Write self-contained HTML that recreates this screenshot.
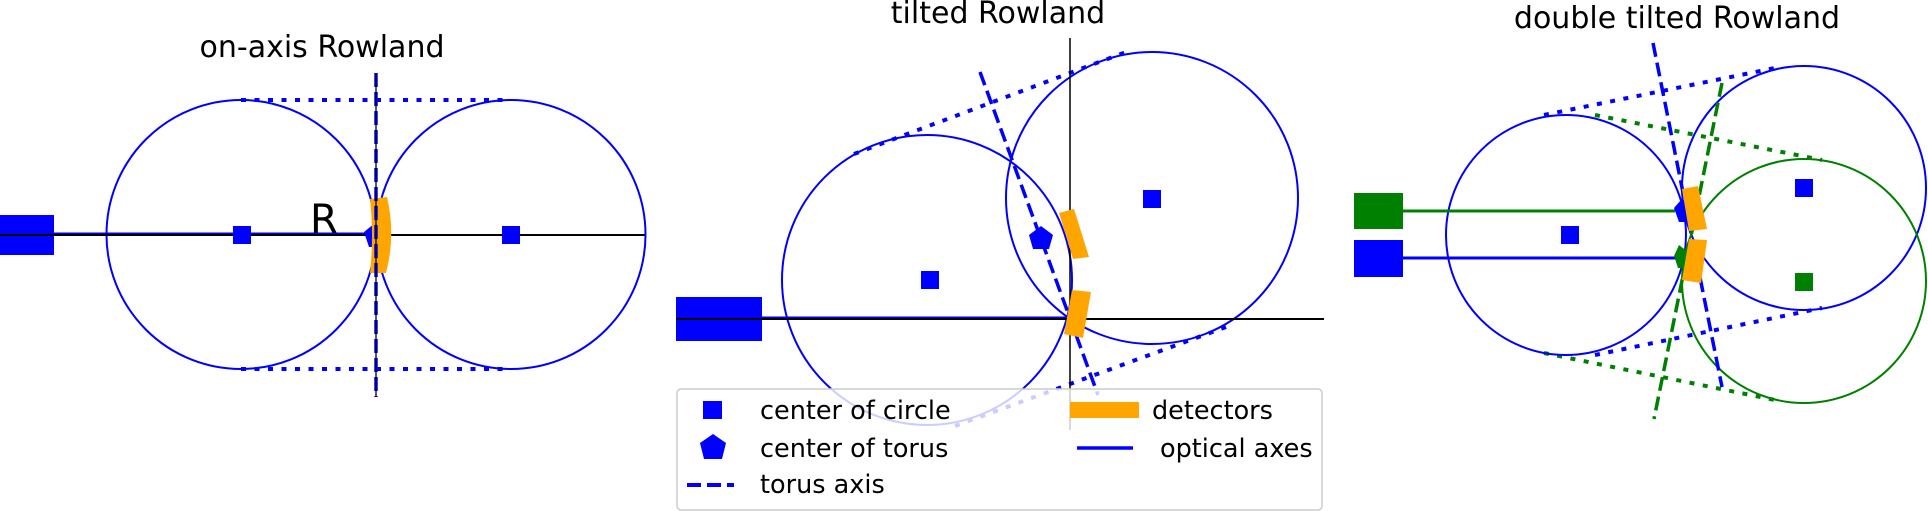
<!DOCTYPE html>
<html><head><meta charset="utf-8"><style>
html,body{margin:0;padding:0;background:#fff;}
svg{display:block;}
text{font-family:"DejaVu Sans","Liberation Sans",sans-serif;fill:#000;}
</style></head><body>
<svg width="1928" height="511" viewBox="0 0 1928 511" xmlns="http://www.w3.org/2000/svg">
<!-- Panel 1 -->
<text x="322" y="57" font-size="30" text-anchor="middle">on-axis Rowland</text>
<line x1="241" y1="100" x2="511" y2="100" stroke="#00f" stroke-width="4" stroke-dasharray="5 8.5"/>
<line x1="241" y1="369" x2="511" y2="369" stroke="#00f" stroke-width="4" stroke-dasharray="5 8.5"/>
<circle cx="241" cy="234.5" r="134.5" fill="none" stroke="#00f" stroke-width="2"/>
<circle cx="511" cy="234.5" r="134.5" fill="none" stroke="#00f" stroke-width="2"/>
<rect x="0" y="215" width="54" height="40" fill="#00f"/>
<line x1="54" y1="234" x2="376" y2="234" stroke="#00f" stroke-width="3"/>
<line x1="0" y1="235" x2="645" y2="235" stroke="#000" stroke-width="2"/>
<rect x="233" y="226" width="18" height="18" fill="#00f"/>
<rect x="502" y="226" width="18" height="18" fill="#00f"/>
<polygon points="364,232 375,223 376,247 369,247" fill="#00f"/>
<path d="M370 199 L387 197 Q396 235 386 273 L370 273 Q374 235 370 199 Z" fill="#ffa500"/>
<line x1="376" y1="73" x2="376" y2="397" stroke="#00f" stroke-width="3.5" stroke-dasharray="14 5"/>
<line x1="376" y1="73" x2="376" y2="397" stroke="#000" stroke-width="1.3"/>
<text x="310" y="233" font-size="40">R</text>

<!-- Panel 2 -->
<text x="998" y="23" font-size="30" text-anchor="middle">tilted Rowland</text>
<line x1="854" y1="154" x2="1126" y2="52" stroke="#00f" stroke-width="4" stroke-dasharray="5 8.5"/>
<line x1="955" y1="426" x2="1226" y2="327" stroke="#00f" stroke-width="4" stroke-dasharray="5 8.5"/>
<circle cx="927" cy="280" r="145" fill="none" stroke="#00f" stroke-width="2"/>
<circle cx="1152" cy="198" r="146" fill="none" stroke="#00f" stroke-width="2"/>
<line x1="1070" y1="38" x2="1070" y2="430" stroke="#000" stroke-width="1.5"/>
<rect x="676" y="297" width="86" height="44" fill="#00f"/>
<line x1="762" y1="318" x2="1070" y2="318" stroke="#00f" stroke-width="3"/>
<line x1="676" y1="319" x2="1324" y2="319" stroke="#000" stroke-width="2"/>
<rect x="921" y="271" width="18" height="18" fill="#00f"/>
<rect x="1143" y="190" width="18" height="18" fill="#00f"/>
<polygon points="1041,226 1053,235 1049,249 1033,249 1029,235" fill="#00f"/>
<line x1="980" y1="72" x2="1098" y2="395" stroke="#00f" stroke-width="3.5" stroke-dasharray="14 6"/>
<polygon points="1059,213 1074,209 1089,257 1073,259" fill="#ffa500"/>
<polygon points="1072,290 1091,292 1083,338 1064,334" fill="#ffa500"/>
<!-- Legend -->
<rect x="677" y="389" width="645" height="121" rx="4" fill="#fff" fill-opacity="0.8" stroke="#ccc" stroke-width="1.5"/>
<rect x="703" y="401" width="19" height="18" fill="#00f"/>
<text x="760" y="419" font-size="25.5">center of circle</text>
<polygon points="713,434 726,443 722,459 704,459 700,443" fill="#00f"/>
<text x="760" y="457" font-size="25.5">center of torus</text>
<line x1="687" y1="485" x2="734" y2="485" stroke="#00f" stroke-width="4" stroke-dasharray="14 6"/>
<text x="760" y="493" font-size="25.5">torus axis</text>
<rect x="1070" y="402" width="69" height="16" fill="#ffa500"/>
<text x="1152" y="419" font-size="25.5">detectors</text>
<line x1="1077" y1="448" x2="1133" y2="448" stroke="#00f" stroke-width="3.5"/>
<text x="1160" y="457" font-size="25.5">optical axes</text>

<!-- Panel 3 -->
<text x="1677" y="28" font-size="30" text-anchor="middle">double tilted Rowland</text>
<line x1="1544" y1="115" x2="1775" y2="68" stroke="#00f" stroke-width="4" stroke-dasharray="5 8.5"/>
<line x1="1595" y1="355" x2="1822" y2="308" stroke="#00f" stroke-width="4" stroke-dasharray="5 8.5"/>
<line x1="1595" y1="115" x2="1822" y2="160" stroke="#008000" stroke-width="4" stroke-dasharray="5 8.5"/>
<line x1="1544" y1="353" x2="1775" y2="400" stroke="#008000" stroke-width="4" stroke-dasharray="5 8.5"/>
<circle cx="1566" cy="235" r="120" fill="none" stroke="#00f" stroke-width="2"/>
<circle cx="1804" cy="188" r="122" fill="none" stroke="#00f" stroke-width="2"/>
<circle cx="1804" cy="281" r="122" fill="none" stroke="#008000" stroke-width="2"/>
<rect x="1354" y="193" width="49" height="36" fill="#008000"/>
<rect x="1354" y="240" width="49" height="37" fill="#00f"/>
<line x1="1403" y1="211" x2="1675" y2="211" stroke="#008000" stroke-width="3"/>
<line x1="1403" y1="258" x2="1675" y2="258" stroke="#00f" stroke-width="3"/>
<rect x="1561" y="226" width="18" height="18" fill="#00f"/>
<rect x="1795" y="179" width="18" height="18" fill="#00f"/>
<rect x="1795" y="273" width="18" height="18" fill="#008000"/>
<line x1="1653" y1="43" x2="1722" y2="387" stroke="#00f" stroke-width="3.5" stroke-dasharray="14 6"/>
<line x1="1722" y1="83" x2="1654" y2="419" stroke="#008000" stroke-width="3.5" stroke-dasharray="14 6"/>
<polygon points="1681,200 1690,208 1688,222 1679,222 1674,208" fill="#00f"/>
<polygon points="1679,245 1688,252 1686,268 1678,268 1674,256" fill="#008000"/>
<polygon points="1682,189 1698,186 1707,229 1689,231" fill="#ffa500"/>
<polygon points="1689,239 1707,240 1701,283 1682,280" fill="#ffa500"/>
</svg>
</body></html>
